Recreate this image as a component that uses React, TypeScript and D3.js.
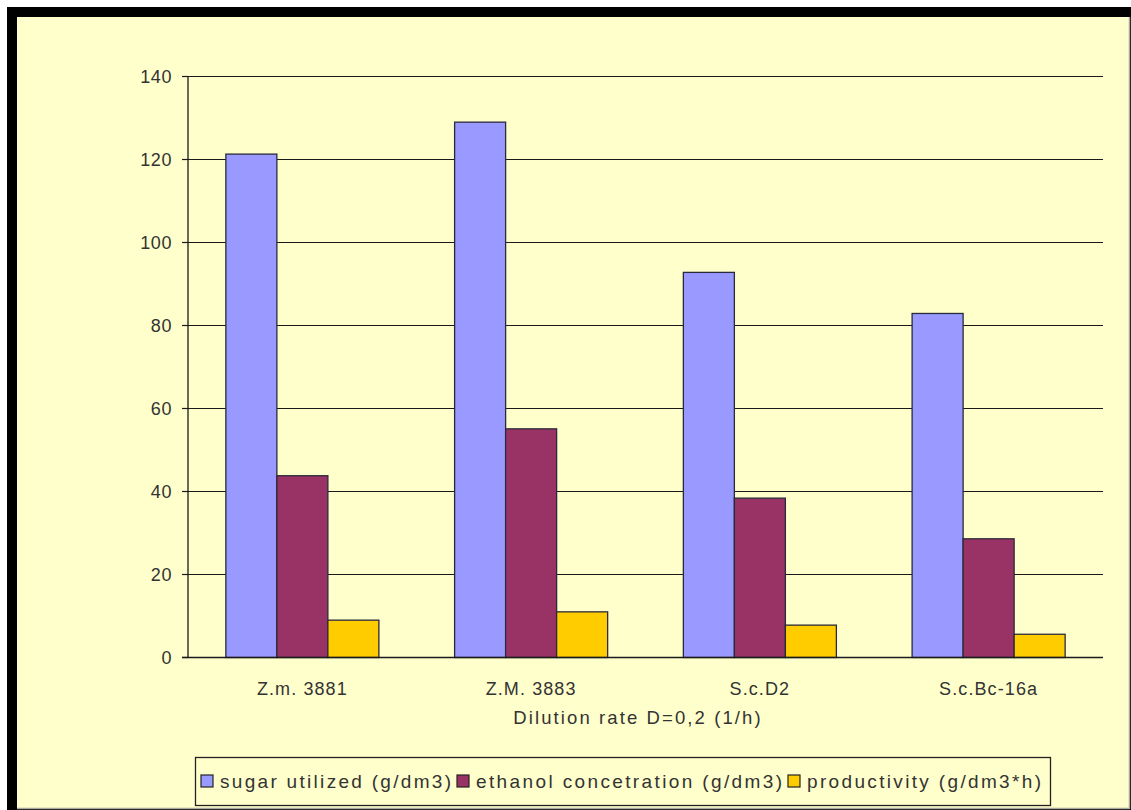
import React, { useEffect, useRef } from 'react';
import * as d3 from 'd3';

const categories = ['Z.m. 3881', 'Z.M. 3883', 'S.c.D2', 'S.c.Bc-16a'];
const seriesNames = ['sugar utilized (g/dm3)', 'ethanol concetration (g/dm3)', 'productivity (g/dm3*h)'];
const sugarUtilized = [121.3, 129.0, 92.8, 82.9];
const ethanolConcentration = [43.8, 55.1, 38.4, 28.6];
const productivity = [9.0, 11.0, 7.8, 5.6];
const yTicks = [0, 20, 40, 60, 80, 100, 120, 140];
const xTitle = 'Dilution rate D=0,2 (1/h)';
const seriesColors = ['#9999FF', '#993366', '#FFCC00'];

const W = 1131;
const H = 810;
const FONT = "'Liberation Sans', Arial, sans-serif";
const TEXT = '#333333';

export default function App() {
  const ref = useRef<SVGSVGElement>(null);

  useEffect(() => {
    const svg = d3.select(ref.current);
    svg.selectAll('*').remove();

    // frame
    svg.append('rect').attr('x', 0).attr('y', 0).attr('width', W).attr('height', H).attr('fill', '#ffffff');
    svg.append('rect').attr('x', 7).attr('y', 7).attr('width', W - 7).attr('height', H - 7).attr('fill', '#000000');
    svg.append('rect').attr('x', 17).attr('y', 17).attr('width', 1112).attr('height', 791).attr('fill', '#FFFFCC');
    svg.append('line').attr('x1', 1129.5).attr('x2', 1129.5).attr('y1', 17).attr('y2', 809).attr('stroke', '#a8a8a0').attr('stroke-width', 1.5);
    svg.append('line').attr('x1', 17).attr('x2', 1130).attr('y1', 808.5).attr('y2', 808.5).attr('stroke', '#a8a8a0').attr('stroke-width', 1.5);

    const left = 188, right = 1103, top = 76.5, bottom = 657.5;
    const x = d3.scaleBand<string>().domain(categories).range([left, right]).paddingInner(0.331).paddingOuter(0.1655);
    const xs = d3.scaleBand<number>().domain([0, 1, 2]).range([0, x.bandwidth()]).padding(0);
    const y = d3.scaleLinear().domain([0, 140]).range([bottom, top]);

    const g = svg.append('g');
    // gridlines
    g.selectAll('line.grid').data(yTicks.filter(t => t > 0)).enter().append('line')
      .attr('x1', left).attr('x2', right)
      .attr('y1', d => y(d)).attr('y2', d => y(d))
      .attr('stroke', '#1a1a1a').attr('stroke-width', 1.2);

    // tick marks
    g.selectAll('line.tick').data(yTicks).enter().append('line')
      .attr('x1', left - 6).attr('x2', left)
      .attr('y1', d => y(d)).attr('y2', d => y(d))
      .attr('stroke', '#1a1a1a').attr('stroke-width', 1.2);

    // y labels
    g.selectAll('text.ylab').data(yTicks).enter().append('text')
      .attr('x', 172).attr('y', d => y(d)).attr('dy', '0.36em')
      .attr('text-anchor', 'end').attr('font-family', FONT).attr('font-size', 18)
      .attr('letter-spacing', 0.6).attr('fill', TEXT)
      .text(d => String(d));

    // bars
    const series = [sugarUtilized, ethanolConcentration, productivity];
    series.forEach((vals, si) => {
      g.selectAll(`rect.s${si}`).data(vals).enter().append('rect')
        .attr('x', (d, i) => (x(categories[i]) as number) + (xs(si) as number))
        .attr('y', d => y(d))
        .attr('width', xs.bandwidth())
        .attr('height', d => bottom - y(d))
        .attr('fill', seriesColors[si])
        .attr('stroke', '#2a2a3a').attr('stroke-width', 1.3);
    });

    // axes
    g.append('line').attr('x1', left).attr('x2', left).attr('y1', top).attr('y2', bottom)
      .attr('stroke', '#1a1a1a').attr('stroke-width', 1.3);
    g.append('line').attr('x1', left - 6).attr('x2', right).attr('y1', bottom).attr('y2', bottom)
      .attr('stroke', '#1a1a1a').attr('stroke-width', 1.3);

    // category labels
    g.selectAll('text.cat').data(categories).enter().append('text')
      .attr('x', d => (x(d) as number) + x.bandwidth() / 2)
      .attr('y', 695)
      .attr('text-anchor', 'middle').attr('font-family', FONT).attr('font-size', 18)
      .attr('letter-spacing', 1.1).attr('fill', TEXT)
      .text(d => d);

    // x title
    g.append('text').attr('x', 638).attr('y', 724)
      .attr('text-anchor', 'middle').attr('font-family', FONT).attr('font-size', 18.5)
      .attr('letter-spacing', 2.1).attr('fill', TEXT)
      .text(xTitle);

    // legend
    const lg = svg.append('g');
    lg.append('rect').attr('x', 195.5).attr('y', 757.5).attr('width', 855).attr('height', 48)
      .attr('fill', 'none').attr('stroke', '#222').attr('stroke-width', 1.3);
    const legendSquareX = [201, 457, 788];
    const legendTextW = [231, 306, 234];
    seriesNames.forEach((name, i) => {
      const sx = legendSquareX[i];
      lg.append('rect').attr('x', sx).attr('y', 775).attr('width', 12).attr('height', 12)
        .attr('fill', seriesColors[i]).attr('stroke', '#222').attr('stroke-width', 1.2);
      lg.append('text').attr('x', sx + 19).attr('y', 788)
        .attr('font-family', FONT).attr('font-size', 19).attr('fill', TEXT)
        .attr('textLength', legendTextW[i]).attr('lengthAdjust', 'spacing')
        .text(name);
    });
  }, []);

  return (
    <svg ref={ref} width={W} height={H} style={{ position: 'absolute', left: 0, top: 0, display: 'block' }} />
  );
}
